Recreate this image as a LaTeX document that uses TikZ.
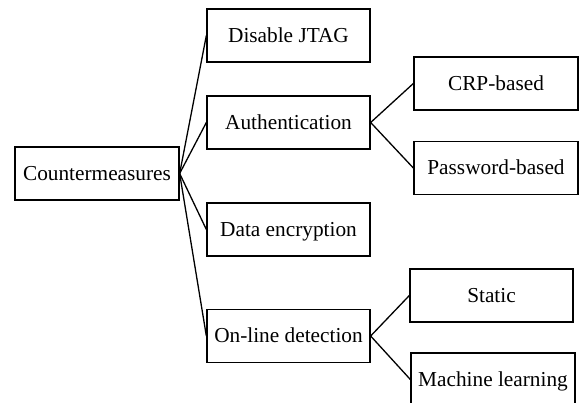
\documentclass[tikz,border=0pt]{standalone}
\usepackage{fontspec}
\setmainfont{Liberation Serif}
\begin{document}
\begin{tikzpicture}[x=1pt,y=-1pt,
  box/.style={draw, line width=1.3pt, inner sep=0pt, minimum height=53pt,
    text height=14pt, text depth=0pt, font=\fontsize{21.3}{24}\selectfont},
  link/.style={line width=1.3pt}]
\clip (0,0) rectangle (579,403);
\fill[white] (0,0) rectangle (579,403);

% root
\node[box, minimum width=164pt] (cm) at (97,173.5) {Countermeasures};

% first level
\node[box, minimum width=163pt] (jtag) at (288.5,35.5)  {Disable JTAG};
\node[box, minimum width=163pt] (auth) at (288.5,122.5) {Authentication};
\node[box, minimum width=163pt] (enc)  at (288.5,229.5) {Data encryption};
\node[box, minimum width=163pt] (det)  at (288.5,336)   {On-line detection};

% second level
\node[box, minimum width=164pt] (crp)  at (496,83.5)  {CRP-based};
\node[box, minimum width=164pt] (pwd)  at (496,168)   {Password-based};
\node[box, minimum width=163pt] (stat) at (491.5,295.5) {Static};
\node[box, minimum width=164pt] (ml)   at (493,379.5) {Machine learning};

% connectors
\foreach \t in {jtag,auth,enc,det}
  \draw[link] (cm.east) -- (\t.west);
\draw[link] (auth.east) -- (crp.west);
\draw[link] (auth.east) -- (pwd.west);
\draw[link] (det.east) -- (stat.west);
\draw[link] (det.east) -- (ml.west);
\end{tikzpicture}
\end{document}
